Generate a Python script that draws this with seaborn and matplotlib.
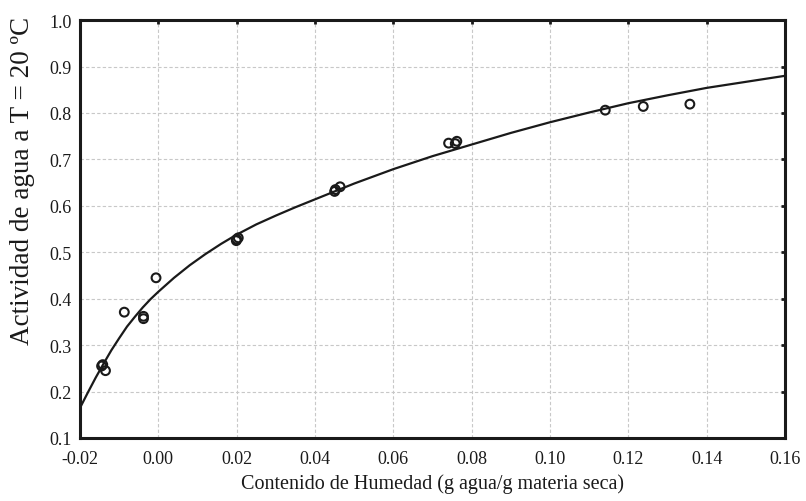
import numpy as np
import pandas as pd
import matplotlib
matplotlib.use("Agg")
import matplotlib.pyplot as plt
import seaborn as sns

# measured points (moisture content, water activity)
humedad = [-0.0142, -0.0145, -0.0135, -0.0087, -0.0038, -0.0038, -0.0006,
           0.0200, 0.0204, 0.0199, 0.0452, 0.0464, 0.0450,
           0.0741, 0.0762, 0.0758, 0.1141, 0.1238, 0.1357]
aw = [0.258, 0.255, 0.245, 0.371, 0.362, 0.357, 0.445,
      0.528, 0.531, 0.525, 0.635, 0.641, 0.631,
      0.735, 0.739, 0.734, 0.806, 0.814, 0.819]

# fitted curve
curva_x = [-0.020, -0.018, -0.016, -0.014, -0.012, -0.010, -0.008, -0.006,
           -0.004, -0.002, 0.000, 0.004, 0.008, 0.012, 0.016, 0.020,
           0.025, 0.030, 0.035, 0.040, 0.050, 0.060, 0.070, 0.080,
           0.090, 0.100, 0.110, 0.120, 0.130, 0.140, 0.150, 0.160]
curva_y = [0.165, 0.198, 0.230, 0.260, 0.289, 0.315, 0.340, 0.361,
           0.381, 0.399, 0.415, 0.445, 0.472, 0.496, 0.518, 0.538,
           0.560, 0.579, 0.597, 0.614, 0.648, 0.679, 0.707, 0.732,
           0.757, 0.780, 0.801, 0.821, 0.838, 0.854, 0.867, 0.880]

x_ticks = [-0.02, 0.00, 0.02, 0.04, 0.06, 0.08, 0.10, 0.12, 0.14, 0.16]
y_ticks = [0.1, 0.2, 0.3, 0.4, 0.5, 0.6, 0.7, 0.8, 0.9, 1.0]

puntos = pd.DataFrame({"x": humedad, "y": aw})
curva = pd.DataFrame({"x": curva_x, "y": curva_y})

sns.set_style("white")
plt.rcParams['font.family'] = ['Liberation Serif', 'DejaVu Serif']

fig = plt.figure(figsize=(8.06, 5.02), dpi=100)
ax = fig.add_axes([0.0993, 0.1255, 0.8747, 0.8325])

sns.lineplot(data=curva, x="x", y="y", ax=ax, color="#1a1a1a", lw=1.6,
             sort=False, zorder=3)
sns.scatterplot(data=puntos, x="x", y="y", ax=ax, s=40, marker="o",
                facecolor="none", edgecolor="#1a1a1a", linewidth=1.5, zorder=4)

ax.set_xlim(-0.02, 0.16)
ax.set_ylim(0.1, 1.0)
ax.set_xticks(x_ticks)
ax.set_yticks(y_ticks)
ax.set_xticklabels([f"{v:.2f}" for v in x_ticks])
ax.set_yticklabels([f"{v:.1f}" for v in y_ticks])

ax.grid(True, color="#c8c8c8", linestyle=(0, (3, 2)), linewidth=0.8)
ax.set_axisbelow(True)
for sp in ax.spines.values():
    sp.set_linewidth(2.2)
    sp.set_color("#1a1a1a")
ax.tick_params(direction="in", length=3, width=2, top=True, right=True,
               labelsize=13, colors="#1a1a1a")
ax.tick_params(axis="x", pad=9)
ax.tick_params(axis="y", pad=6)

ax.set_xlabel("Contenido de Humedad (g agua/g materia seca)", fontsize=14.5,
              color="#1a1a1a", labelpad=4)
ax.set_ylabel("Actividad de agua a T = 20 ºC", fontsize=19.5, color="#1a1a1a")
ax.yaxis.set_label_coords(-0.064, 0.617)

fig.savefig("out.png", dpi=100)
